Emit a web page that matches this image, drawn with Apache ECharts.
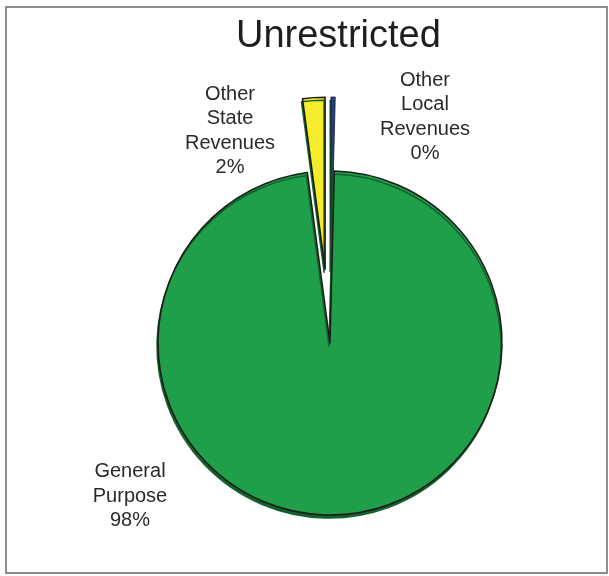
<!DOCTYPE html>
<html>
<head>
<meta charset="utf-8">
<script src="https://cdn.jsdelivr.net/npm/echarts@6/dist/echarts.min.js"></script>
<style>
html,body{margin:0;padding:0;background:#fff;}
#chart{width:609px;height:576px;}
</style>
</head>
<body>
<div id="chart"></div>
<script>
// slices clockwise from 12 o'clock
var names=['Other Local Revenues','General Purpose','Other State Revenues'];
var values=[0.4,97.5,2.1];
var colors=['#26389a','#1f9f49','#f4ec2c'];
var exploded=[true,false,true];
// where each label block sits (centre, px)
var labelPos=[[425,117],[130,496],[230,131]];

var pieCenter=[330,343];
var pieRadius=172;

var data=[],labelData=[];
for(var i=0;i<names.length;i++){
	data.push({
		name:names[i],
		value:values[i],
		selected:exploded[i],
		itemStyle:{color:colors[i],borderWidth:(i==0?0.8:1.5)}
	});
	labelData.push({name:names[i],value:values[i]});
}

var mychart=echarts.init(document.getElementById("chart"));
var option={
	animation:false,
	title:{
		text:'Unrestricted',
		left:231,
		top:13,
		textStyle:{fontFamily:'Liberation Sans',fontSize:38,fontWeight:'normal',color:'#1e1e1e'}
	},
	graphic:[{
		type:'rect',
		shape:{x:6,y:7,width:601,height:566},
		style:{fill:'none',stroke:'#6a6a6a',lineWidth:1.5},
		silent:true
	}],
	series:[{
		//slices, small ones pulled out
		type:'pie',
		center:pieCenter,
		radius:pieRadius,
		startAngle:90,
		clockwise:true,
		selectedMode:'multiple',
		selectedOffset:74,
		itemStyle:{
			borderColor:'#1a1a1a',
			borderWidth:1.5,
			shadowColor:'#13612b',
			shadowOffsetY:3,
			shadowOffsetX:-1,
			shadowBlur:0
		},
		label:{show:false},
		labelLine:{show:false},
		emphasis:{disabled:true},
		data:data
	},{
		//same data again, only for the labels
		type:'pie',
		center:pieCenter,
		radius:pieRadius,
		startAngle:90,
		clockwise:true,
		silent:true,
		percentPrecision:0,
		avoidLabelOverlap:false,
		itemStyle:{color:'rgba(0,0,0,0)',borderWidth:0},
		label:{
			show:true,
			position:'outside',
			fontFamily:'Liberation Sans',
			fontSize:20,
			lineHeight:24.5,
			color:'#2a2a2a',
			align:'center',
			formatter:function(p){
				return p.name.replace(/ /g,'\n')+'\n'+p.percent+'%';
			}
		},
		labelLine:{show:false},
		labelLayout:function(p){
			var xy=labelPos[p.dataIndex];
			return {x:xy[0],y:xy[1],align:'center',verticalAlign:'middle'};
		},
		emphasis:{disabled:true},
		data:labelData
	}]
};
mychart.setOption(option);
</script>
</body>
</html>
